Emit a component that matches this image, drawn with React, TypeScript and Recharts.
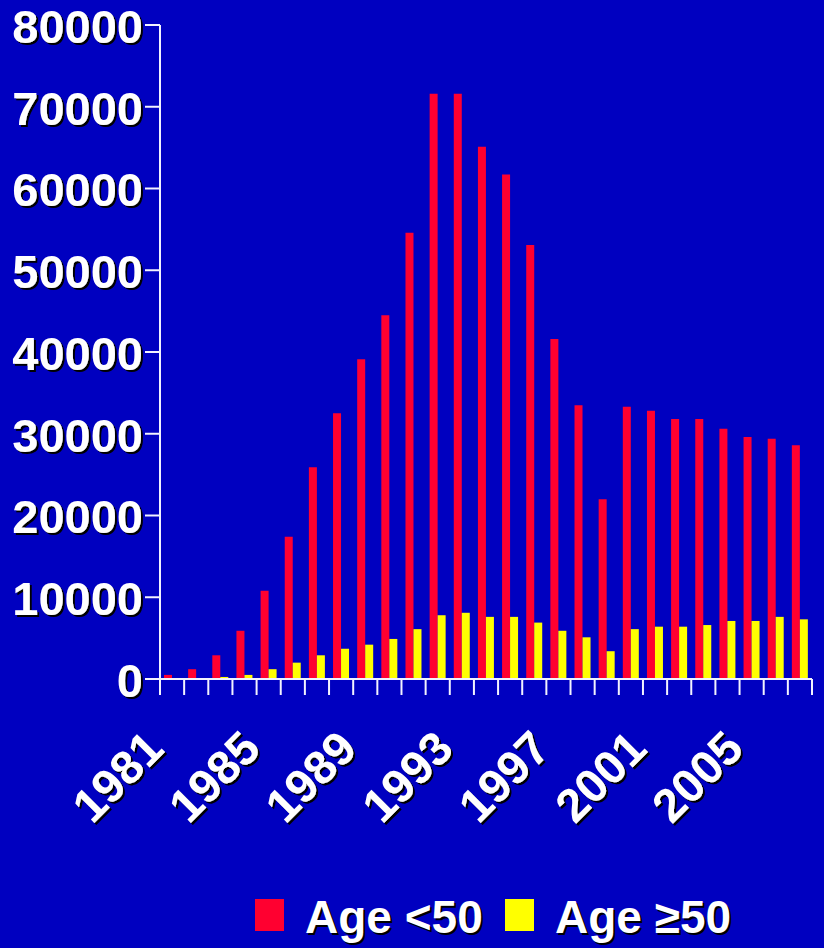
import { Bar, BarChart, XAxis, YAxis } from "recharts";

const YEARS = [
  "1981", "1982", "1983", "1984", "1985", "1986", "1987", "1988", "1989",
  "1990", "1991", "1992", "1993", "1994", "1995", "1996", "1997", "1998",
  "1999", "2000", "2001", "2002", "2003", "2004", "2005", "2006", "2007",
];
const UNDER_50 = [
  500, 1200, 2900, 5900, 10800, 17400, 25900, 32500, 39100,
  44500, 54600, 71600, 71600, 65100, 61700, 53100, 41600, 33500,
  22000, 33300, 32800, 31800, 31800, 30600, 29600, 29400, 28600,
];
const OVER_50 = [
  0, 100, 250, 500, 1200, 2000, 2900, 3700, 4200,
  4900, 6100, 7800, 8100, 7600, 7600, 6900, 5900, 5100,
  3400, 6100, 6400, 6400, 6600, 7100, 7100, 7600, 7300,
];
const Y_TICKS = [0, 10000, 20000, 30000, 40000, 50000, 60000, 70000, 80000];
const LABEL_EVERY = 4;

const C = {
  bg: "#0000c0",
  red: "#ff0030",
  yellow: "#ffff00",
  axis: "#f2f2ff",
  text: "#ffffff",
  shadow: "#000000",
};
const FONT = "'Liberation Sans', Arial, Helvetica, sans-serif";
const FS = 47;
const LEGEND_FS = 46;

const W = 824;
const H = 948;
const PLOT_LEFT = 160;
const PLOT_RIGHT = 812;
const STEP = (PLOT_RIGHT - PLOT_LEFT) / YEARS.length;

const data = YEARS.map((year, i) => ({ year, under50: UNDER_50[i], over50: OVER_50[i] }));

// bold white text with a hard black drop shadow (filter sits outside the rotation,
// so the shadow always falls down-right on screen)
function ShadowText({ x, y, angle = 0, anchor, dy, children }: any) {
  return (
    <g filter="url(#hardShadow)">
      <g transform={`translate(${x},${y}) rotate(${angle})`}>
        <text
          textAnchor={anchor}
          dy={dy}
          fontFamily={FONT}
          fontSize={FS}
          fontWeight={700}
          fill={C.text}
        >
          {children}
        </text>
      </g>
    </g>
  );
}

function ValueTick({ x, y, payload }: any) {
  return (
    <ShadowText x={x} y={y} anchor="end" dy="0.38em">
      {payload.value}
    </ShadowText>
  );
}

// tick marks sit on category boundaries; labels every fourth year, slanted
function YearTick({ x, y, payload, index }: any) {
  const half = payload?.offset || STEP / 2;
  const left = x - half;
  return (
    <g>
      <line x1={left} x2={left} y1={y} y2={y + 16} stroke={C.axis} strokeWidth={2} />
      {index === YEARS.length - 1 && (
        <line x1={x + half} x2={x + half} y1={y} y2={y + 16} stroke={C.axis} strokeWidth={2} />
      )}
      {index % LABEL_EVERY === 0 && (
        <ShadowText x={x - 6} y={y + 72} angle={-45} anchor="end">
          {payload.value}
        </ShadowText>
      )}
    </g>
  );
}

const legendText: React.CSSProperties = {
  position: "absolute",
  top: 894,
  fontFamily: FONT,
  fontSize: LEGEND_FS,
  fontWeight: 700,
  lineHeight: `${LEGEND_FS}px`,
  color: C.text,
  textShadow: `2px 2px 0 ${C.shadow}`,
  whiteSpace: "nowrap",
};
const legendBox = (color: string, left: number): React.CSSProperties => ({
  position: "absolute",
  left,
  top: 899,
  width: 29,
  height: 32,
  background: color,
});

export default function App() {
  return (
    <div style={{ position: "relative", width: W, height: H, background: C.bg, overflow: "hidden" }}>
      <style>{"body{margin:0}"}</style>
      <BarChart
        width={W}
        height={H}
        data={data}
        margin={{ top: 25, right: W - PLOT_RIGHT, left: 0, bottom: 0 }}
        barCategoryGap={4}
        barGap={0}
      >
        <defs>
          <filter id="hardShadow" x="-10%" y="-10%" width="130%" height="130%">
            <feOffset in="SourceAlpha" dx={2} dy={2} result="off" />
            <feFlood floodColor={C.shadow} />
            <feComposite in2="off" operator="in" result="shadow" />
            <feMerge>
              <feMergeNode in="shadow" />
              <feMergeNode in="SourceGraphic" />
            </feMerge>
          </filter>
        </defs>
        <XAxis
          dataKey="year"
          interval={0}
          height={269}
          tickLine={false}
          tickSize={0}
          tickMargin={0}
          axisLine={{ stroke: C.axis, strokeWidth: 2 }}
          tick={<YearTick />}
        />
        <YAxis
          width={PLOT_LEFT}
          domain={[0, 80000]}
          ticks={Y_TICKS}
          interval={0}
          tickSize={15}
          tickMargin={2}
          axisLine={{ stroke: C.axis, strokeWidth: 2 }}
          tickLine={{ stroke: C.axis, strokeWidth: 2 }}
          tick={<ValueTick />}
        />
        <Bar dataKey="under50" name="Age <50" fill={C.red} isAnimationActive={false} />
        <Bar dataKey="over50" name="Age ≥50" fill={C.yellow} isAnimationActive={false} />
      </BarChart>
      <div style={legendBox(C.red, 255)} />
      <div style={{ ...legendText, left: 305 }}>Age &lt;50</div>
      <div style={legendBox(C.yellow, 505)} />
      <div style={{ ...legendText, left: 555 }}>Age ≥50</div>
    </div>
  );
}
